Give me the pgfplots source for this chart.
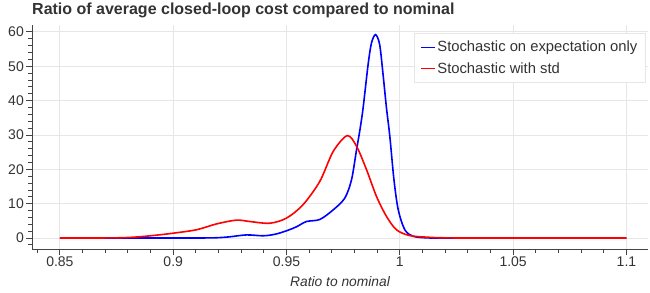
\documentclass[border=0pt]{standalone}
\usepackage{pgfplots}
\pgfplotsset{compat=1.18}
\usepackage{fontspec}
\setmainfont{Liberation Sans}
\definecolor{gridc}{HTML}{E6E6E6}
\definecolor{axc}{HTML}{444444}
\definecolor{txtc}{HTML}{333333}
\begin{document}
\begin{tikzpicture}[x=1pt,y=1pt]
\begin{axis}[
  scale only axis, width=616pt, height=224pt,
  xmin=0.8377, xmax=1.1095, ymin=-3.2, ymax=62,
  axis lines*=left,
  axis line style={axc, line width=0.8pt, -},
  xtick={0.85,0.9,0.95,1,1.05,1.1},
  xticklabels={0.85,0.9,0.95,1,1.05,1.1},
  ytick={0,10,20,30,40,50,60},
  yticklabels={0,10,20,30,40,50,60},
  minor xtick={0.84,0.86,0.87,0.88,0.89,0.91,0.92,0.93,0.94,0.96,0.97,0.98,0.99,1.01,1.02,1.03,1.04,1.06,1.07,1.08,1.09},
  minor ytick={-2,2,4,6,8,12,14,16,18,22,24,26,28,32,34,36,38,42,44,46,48,52,54,56,58,60},
  tick align=outside,
  major tick length=6pt, minor tick length=4pt,
  every tick/.style={axc, line width=0.8pt},
  grid=major,
  major grid style={gridc, line width=0.8pt},
  minor grid style={draw=none},
  ticklabel style={font=\fontsize{14}{16}\selectfont, text=txtc},
  xticklabel style={inner sep=2pt},
  yticklabel style={inner sep=2pt},
  xlabel={\itshape Ratio to nominal},
  xlabel style={at={(axis description cs:0.5,0)}, anchor=base, yshift=-37pt, font=\fontsize{13.8}{16}\selectfont, text=txtc},
  title={Ratio of average closed-loop cost compared to nominal},
  title style={at={(axis description cs:0,1)}, anchor=base west, yshift=5pt, inner sep=0pt, font=\bfseries\fontsize{16}{19}\selectfont, text=txtc},
  legend style={at={(axis description cs:1,1)}, anchor=north east, xshift=-3pt, yshift=-8pt,
    draw=gridc, fill=white, font=\fontsize{14.8}{17}\selectfont, text=txtc,
    inner xsep=6pt, inner ysep=6.5pt, row sep=6pt,
    nodes={inner sep=1.5pt}},
  legend cell align=left,
  legend image code/.code={\draw[#1] (0pt,0pt) -- (14pt,0pt);},
]
\addplot[blue, line width=1.6pt, smooth, tension=0.5] coordinates {
(0.85,0) (0.88,0) (0.90,0) (0.915,0.02) (0.92,0.1) (0.925,0.35) (0.9324,0.9) (0.9397,0.65)
(0.945,1.1) (0.95,2.1) (0.9545,3.3) (0.9588,4.8) (0.9647,5.4) (0.9706,8.2) (0.9757,11.6)
(0.9787,17) (0.9809,25.7) (0.9824,31.5) (0.9838,37.9) (0.986,50.5) (0.9875,56.8)
(0.9893,59.2) (0.9911,56.3) (0.9926,47.6) (0.9941,37.9) (0.9956,29.5) (0.9974,17)
(0.9993,8.2) (1.0022,2.4) (1.0059,0.5) (1.0118,0.05) (1.02,0) (1.05,0) (1.1,0)
};
\addlegendentry{Stochastic on expectation only}
\addplot[red, line width=1.6pt, smooth, tension=0.5] coordinates {
(0.85,0) (0.865,0) (0.875,0.05) (0.88,0.15) (0.885,0.35) (0.89,0.65) (0.895,1.0) (0.9,1.4)
(0.9103,2.4) (0.9191,4.1) (0.9279,5.2) (0.9338,4.8) (0.9426,4.3) (0.95,5.8) (0.9573,9.7)
(0.9647,16.5) (0.9706,25.2) (0.9768,29.8) (0.9809,26.7) (0.9853,19.9) (0.9897,12.1)
(0.9941,6.3) (0.9985,2.4) (1.0044,0.7) (1.0132,0.2) (1.02,0.05) (1.03,0) (1.06,0) (1.1,0)
};
\addlegendentry{Stochastic with std}
\end{axis}
\pgfresetboundingbox
\path (-32pt,-43pt) rectangle (618pt,249pt);
\end{tikzpicture}
\end{document}
